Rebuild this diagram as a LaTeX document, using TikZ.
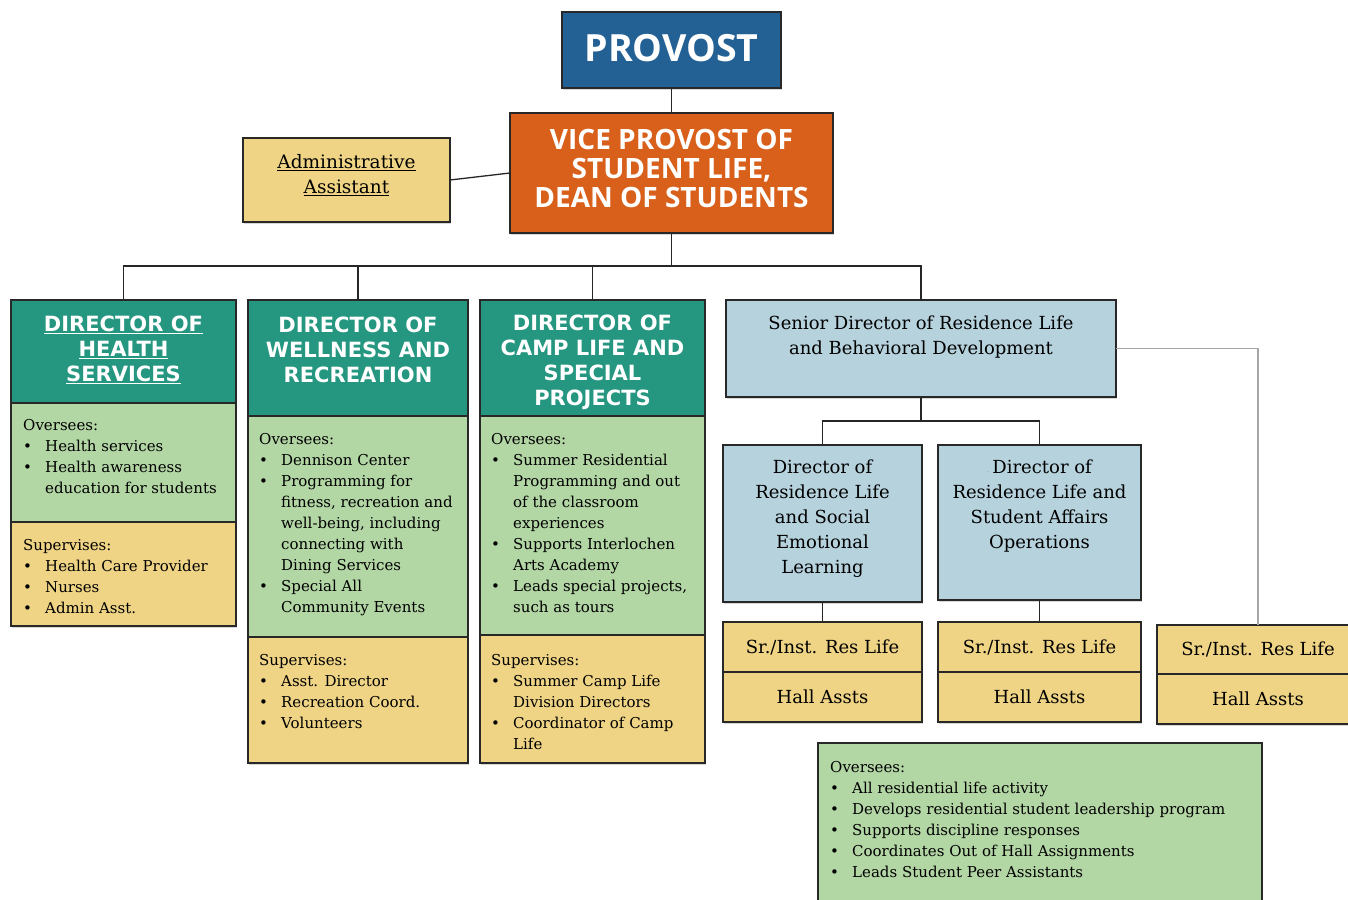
\documentclass[tikz,border=0pt]{standalone}
\usepackage{fontspec}
\setmainfont{DejaVu Serif}
\newfontfamily\hdfont{DejaVu Sans}
\newfontfamily\osfont{Open Sans}
\usetikzlibrary{shadows}
\definecolor{provblue}{RGB}{35,96,148}
\definecolor{vporange}{RGB}{217,96,27}
\definecolor{hdteal}{RGB}{37,150,128}
\definecolor{ltgreen}{RGB}{179,214,165}
\definecolor{ltyellow}{RGB}{239,212,133}
\definecolor{ltblue}{RGB}{182,210,221}
\definecolor{edgecol}{RGB}{40,40,40}
\newcommand\bitem[1]{\makebox[22pt][l]{\textbullet}#1}
\newcommand\bcont[1]{\hspace*{22pt}#1}
\tikzset{
  box/.style={draw=edgecol, line width=1.8pt, rectangle, inner sep=0pt, outer sep=0pt, anchor=north west,
    drop shadow={shadow xshift=1.2pt,shadow yshift=-1.5pt,opacity=0.3}},
  conn/.style={draw=black!85, line width=1.3pt},
  body/.style={font=\fontsize{15}{21}\selectfont, align=left, anchor=north west, inner sep=0pt, text=black},
  head/.style={font=\hdfont\bfseries\fontsize{21}{25}\selectfont, align=center, text=white, inner sep=0pt},
  title/.style={font=\fontsize{18}{25}\selectfont, align=center, text=black, inner sep=0pt},
}
\begin{document}
\begin{tikzpicture}[x=1pt,y=-1pt]
\useasboundingbox (0,0) rectangle (1348,899);
\fill[white] (0,0) rectangle (1348,899);
\clip (0,0) rectangle (1348,899);
% top
\node[box, fill=provblue, minimum width=219pt, minimum height=76pt] (prov) at (562,12) {};
\node[box, fill=vporange, minimum width=323pt, minimum height=120pt] (vp) at (510,113) {};
\node[box, fill=ltyellow, minimum width=207pt, minimum height=84pt] (adm) at (243,138) {};
\node[font=\osfont\bfseries\fontsize{37.5}{37.5}\selectfont, text=white, inner sep=0pt] (provt) at (671.5,48) {PROVOST};
\node[font=\osfont\bfseries\fontsize{28}{29}\selectfont, text=white, align=center, inner sep=0pt] (vpt) at (671.5,168.5) {VICE PROVOST OF\\STUDENT LIFE,\\DEAN OF STUDENTS};
\node[title, font=\fontsize{18.5}{25}\selectfont] (admt) at (346.5,175.5) {\underline{Administrative}\\\underline{Assistant}};
% column 1
\node[box, fill=hdteal, minimum width=225pt, minimum height=103pt] (c1h) at (11,300) {};
\node[box, fill=ltgreen, minimum width=225pt, minimum height=119pt] (c1g) at (11,403) {};
\node[box, fill=ltyellow, minimum width=225pt, minimum height=104pt] (c1y) at (11,522) {};
\node[head] (c1ht) at (123.5,350) {\underline{DIRECTOR OF}\\\underline{HEALTH}\\\underline{SERVICES}};
\node[body] (c1gt) at (23,416) {\rule{0pt}{14pt}Oversees:\\\bitem{Health services}\\\bitem{Health awareness}\\\bcont{education for students}};
\node[body] (c1yt) at (23,536) {\rule{0pt}{14pt}Supervises:\\\bitem{Health Care Provider}\\\bitem{Nurses}\\\bitem{Admin Asst.}};
% column 2
\node[box, fill=hdteal, minimum width=220pt, minimum height=116pt] (c2h) at (248,300) {};
\node[box, fill=ltgreen, minimum width=220pt, minimum height=221pt] (c2g) at (248,416) {};
\node[box, fill=ltyellow, minimum width=220pt, minimum height=126pt] (c2y) at (248,637) {};
\node[head] (c2ht) at (358,350) {DIRECTOR OF\\WELLNESS AND\\RECREATION};
\node[body] (c2gt) at (259,430) {\rule{0pt}{14pt}Oversees:\\\bitem{Dennison Center}\\\bitem{Programming for}\\\bcont{fitness, recreation and}\\\bcont{well-being, including}\\\bcont{connecting with}\\\bcont{Dining Services}\\\bitem{Special All}\\\bcont{Community Events}};
\node[body] (c2yt) at (259,651) {\rule{0pt}{14pt}Supervises:\\\bitem{Asst. Director}\\\bitem{Recreation Coord.}\\\bitem{Volunteers}};
% column 3
\node[box, fill=hdteal, minimum width=225pt, minimum height=116pt] (c3h) at (480,300) {};
\node[box, fill=ltgreen, minimum width=225pt, minimum height=219pt] (c3g) at (480,416) {};
\node[box, fill=ltyellow, minimum width=225pt, minimum height=128pt] (c3y) at (480,635) {};
\node[head] (c3ht) at (592.5,362.5) {DIRECTOR OF\\CAMP LIFE AND\\SPECIAL\\PROJECTS};
\node[body] (c3gt) at (491,430) {\rule{0pt}{14pt}Oversees:\\\bitem{Summer Residential}\\\bcont{Programming and out}\\\bcont{of the classroom}\\\bcont{experiences}\\\bitem{Supports Interlochen}\\\bcont{Arts Academy}\\\bitem{Leads special projects,}\\\bcont{such as tours}};
\node[body] (c3yt) at (491,651) {\rule{0pt}{14pt}Supervises:\\\bitem{Summer Camp Life}\\\bcont{Division Directors}\\\bitem{Coordinator of Camp}\\\bcont{Life}};
% residence life
\node[box, fill=ltblue, minimum width=390pt, minimum height=97pt] (sr) at (726,300) {};
\node[title] (srt) at (921,337.5) {Senior Director of Residence Life\\and Behavioral Development};
\node[box, fill=ltblue, minimum width=199pt, minimum height=157pt] (sel) at (723,445) {};
\node[box, fill=ltblue, minimum width=203pt, minimum height=155pt] (sao) at (938,445) {};
\node[title] (selt) at (822.5,519) {Director of\\Residence Life\\and Social\\Emotional\\Learning};
\node[title] (saot) at (1039.5,506.5) {{\tiny$\cdot$}\,Director of\\Residence Life and\\Student Affairs\\Operations};
\node[box, fill=ltyellow, minimum width=199pt, minimum height=50pt] (pa1) at (723,622) {};
\node[box, fill=ltyellow, minimum width=199pt, minimum height=50pt] (pa2) at (723,672) {};
\node[box, fill=ltyellow, minimum width=203pt, minimum height=50pt] (pb1) at (938,622) {};
\node[box, fill=ltyellow, minimum width=203pt, minimum height=50pt] (pb2) at (938,672) {};
\node[box, fill=ltyellow, minimum width=202pt, minimum height=49pt] (pc1) at (1157,625) {};
\node[box, fill=ltyellow, minimum width=202pt, minimum height=50pt] (pc2) at (1157,674) {};
\foreach \p in {pa,pb,pc}{
  \node[title, font=\fontsize{18}{20}\selectfont] (\p1t) at (\p1.center) {Sr./Inst. Res Life};
  \node[title, font=\fontsize{18}{20}\selectfont] (\p2t) at (\p2.center) {Hall Assts};
}
\node[box, fill=ltgreen, minimum width=444pt, minimum height=180pt] (ov) at (818,743) {};
\node[body] (ovt) at (830,758) {\rule{0pt}{14pt}Oversees:\\\bitem{All residential life activity}\\\bitem{Develops residential student leadership program}\\\bitem{Supports discipline responses}\\\bitem{Coordinates Out of Hall Assignments}\\\bitem{Leads Student Peer Assistants}};
% connectors
\coordinate (bus) at (670,266);
\coordinate (rbus) at (920,421);
\draw[conn] (prov.south) -- (vp.north);
\draw[conn] (adm.east) -- (vp.west);
\draw[conn] (vp.south) -- (vp.south |- bus);
\draw[conn] (c1h.north) -- (c1h.north |- bus) -- (sr.north |- bus) -- (sr.north);
\draw[conn] (c2h.north) -- (c2h.north |- bus);
\draw[conn] (c3h.north) -- (c3h.north |- bus);
\draw[conn] (sr.south) -- (sr.south |- rbus);
\draw[conn] (sel.north) -- (sel.north |- rbus) -- (sao.north |- rbus) -- (sao.north);
\draw[conn] (sel.south) -- (pa1.north);
\draw[conn] (sao.south) -- (pb1.north);
\draw[draw=black!35, line width=1.2pt] (sr.east) -- (sr.east -| pc1.north) -- (pc1.north);
\end{tikzpicture}
\end{document}
